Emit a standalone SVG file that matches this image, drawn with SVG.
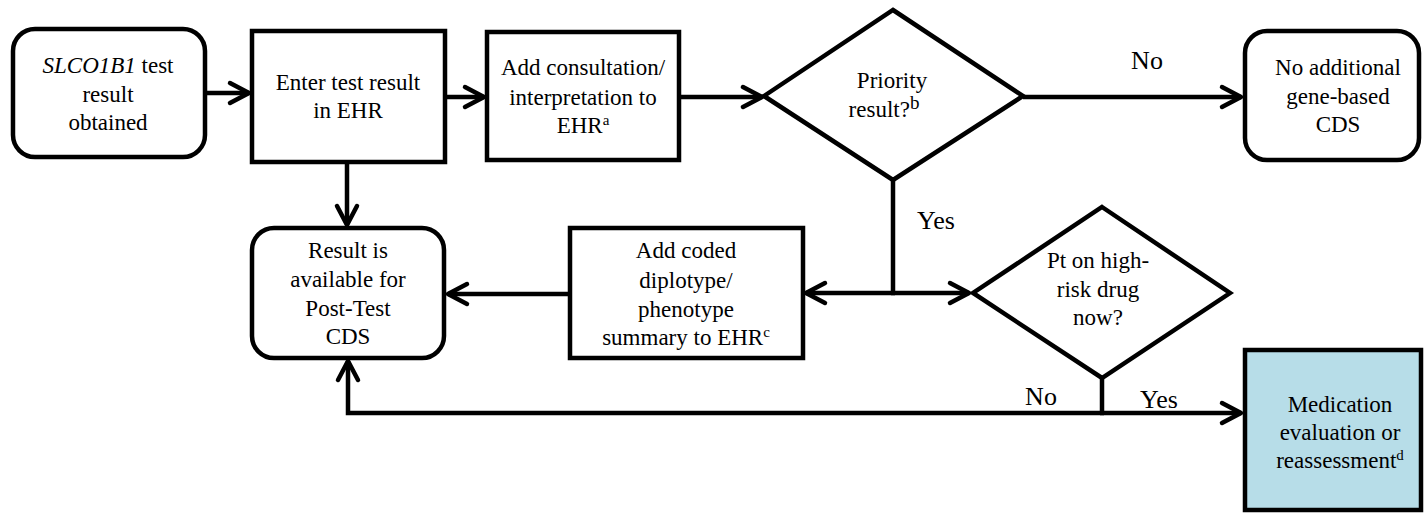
<svg xmlns="http://www.w3.org/2000/svg" width="1425" height="513" viewBox="0 0 1425 513">
<style>
.box{fill:#fff;stroke:#000;stroke-width:4.5}
.blue{fill:#b7dde8;stroke:#000;stroke-width:4.5}
text{fill:#000;text-anchor:middle}
.t{font-size:23px}
.lbl{font-size:26px}
.c{fill:none;stroke:#000;stroke-width:4.5}
.sup{font-size:15px}
</style>
<defs>
<marker id="ah" markerUnits="userSpaceOnUse" viewBox="-26 -16 30 32" markerWidth="30" markerHeight="32" refX="0" refY="0" orient="auto">
<path d="M-19,-10 L0,0 L-19,10" fill="none" stroke="#000" stroke-width="4.5" stroke-linecap="round" stroke-linejoin="round"/>
</marker>
</defs>
<rect width="1425" height="513" fill="#fff"/>
<g font-family="'Liberation Serif', 'Times New Roman', serif">
<g id="connectors">
<path class="c" d="M205,93 L249,93" marker-end="url(#ah)"/>
<path class="c" d="M445,97 L484,97" marker-end="url(#ah)"/>
<path class="c" d="M679,97 L762,97" marker-end="url(#ah)"/>
<path class="c" d="M1023,97 L1241,97" marker-end="url(#ah)"/>
<path class="c" d="M347,162 L347,225" marker-end="url(#ah)"/>
<path class="c" d="M893,180 L893,293"/>
<path class="c" d="M895,293 L806,293" marker-end="url(#ah)"/>
<path class="c" d="M891,293 L969,293" marker-end="url(#ah)"/>
<path class="c" d="M570,294 L448,294" marker-end="url(#ah)"/>
<path class="c" d="M1102,378 L1102,413"/>
<path class="c" d="M1100,413 L1241,413" marker-end="url(#ah)"/>
<path class="c" d="M1104,413 L348,413 L348,361" marker-end="url(#ah)"/>
<text class="lbl" x="1147" y="69">No</text>
<text class="lbl" x="936" y="229">Yes</text>
<text class="lbl" x="1041" y="405">No</text>
<text class="lbl" x="1159" y="408">Yes</text>
</g>
<g id="n1">
<rect class="box" x="13" y="29" width="192" height="128" rx="22"/>
<text class="t" x="108" y="73"><tspan font-style="italic">SLCO1B1</tspan> test</text>
<text class="t" x="108" y="102">result</text>
<text class="t" x="108" y="130">obtained</text>
</g>
<g id="n2">
<rect class="box" x="252" y="31" width="193" height="131"/>
<text class="t" x="348" y="90">Enter test result</text>
<text class="t" x="348" y="118">in EHR</text>
</g>
<g id="n3">
<rect class="box" x="487" y="32" width="192" height="128"/>
<text class="t" x="583" y="75">Add consultation/</text>
<text class="t" x="583" y="105">interpretation to</text>
<text class="t" x="583" y="133">EHR<tspan class="sup" dy="-8">a</tspan></text>
</g>
<g id="d1">
<polygon class="box" points="893,10 1023,96 893,180 764,96"/>
<text class="t" x="892" y="88">Priority</text>
<text class="t" x="884" y="117">result?<tspan font-size="19" dy="-8">b</tspan></text>
</g>
<g id="n4">
<rect class="box" x="1245" y="31" width="174" height="129" rx="22"/>
<text class="t" x="1338" y="75">No additional</text>
<text class="t" x="1338" y="104">gene-based</text>
<text class="t" x="1338" y="132">CDS</text>
</g>
<g id="n5">
<rect class="box" x="252" y="228" width="192" height="130" rx="22"/>
<text class="t" x="348" y="258">Result is</text>
<text class="t" x="348" y="287">available for</text>
<text class="t" x="348" y="316">Post-Test</text>
<text class="t" x="348" y="344">CDS</text>
</g>
<g id="n6">
<rect class="box" x="570" y="228" width="233" height="130"/>
<text class="t" x="686" y="258">Add coded</text>
<text class="t" x="686" y="288">diplotype/</text>
<text class="t" x="686" y="317">phenotype</text>
<text class="t" x="686" y="345">summary to EHR<tspan class="sup" dy="-8">c</tspan></text>
</g>
<g id="d2">
<polygon class="box" points="1102,207 1230,293 1102,378 973,293"/>
<text class="t" x="1098" y="268">Pt on high-</text>
<text class="t" x="1098" y="297">risk drug</text>
<text class="t" x="1098" y="325">now?</text>
</g>
<g id="n7">
<rect class="blue" x="1245" y="350" width="176" height="160"/>
<text class="t" x="1340" y="412">Medication</text>
<text class="t" x="1340" y="440">evaluation or</text>
<text class="t" x="1340" y="468">reassessment<tspan class="sup" dy="-8">d</tspan></text>
</g>
</g>
</svg>
